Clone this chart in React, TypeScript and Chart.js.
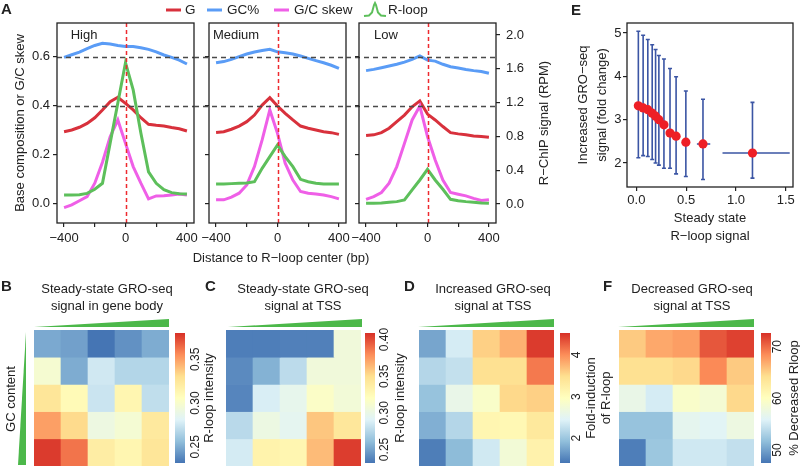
import React, { useEffect, useRef } from "react";
import { Chart, registerables } from "chart.js";

Chart.register(...registerables);

const FONT = '"Liberation Sans", Arial, Helvetica, sans-serif';
const INK = "#222222";
Chart.defaults.font.family = FONT;
Chart.defaults.color = INK;

// ---------------- Panel A: profiles around R-loop centres ----------------
const distanceBp = [-400, -350, -300, -250, -200, -150, -100, -50, 0, 50, 100, 150, 200, 250, 300, 350, 400];

const highG = [0.293, 0.3, 0.311, 0.327, 0.35, 0.382, 0.416, 0.434, 0.409, 0.382, 0.35, 0.323, 0.319, 0.316, 0.31, 0.305, 0.296];
const highGC = [0.597, 0.608, 0.619, 0.633, 0.646, 0.655, 0.652, 0.646, 0.642, 0.642, 0.637, 0.63, 0.62, 0.607, 0.597, 0.586, 0.57];
const highSkew = [-0.018, -0.007, 0.01, 0.027, 0.082, 0.168, 0.272, 0.341, 0.245, 0.15, 0.082, 0.018, 0.03, 0.031, 0.034, 0.038, 0.034];
const highRloop = [0.107, 0.107, 0.11, 0.125, 0.175, 0.245, 0.72, 1.195, 1.672, 1.35, 0.84, 0.38, 0.245, 0.17, 0.134, 0.12, 0.118];

const mediumG = [0.29, 0.293, 0.303, 0.316, 0.334, 0.361, 0.402, 0.432, 0.398, 0.368, 0.341, 0.316, 0.307, 0.3, 0.293, 0.289, 0.282];
const mediumGC = [0.575, 0.58, 0.589, 0.6, 0.611, 0.619, 0.625, 0.63, 0.62, 0.616, 0.611, 0.603, 0.593, 0.584, 0.575, 0.565, 0.552];
const mediumSkew = [0.014, 0.014, 0.025, 0.041, 0.075, 0.15, 0.259, 0.382, 0.286, 0.164, 0.095, 0.048, 0.041, 0.038, 0.034, 0.027, 0.018];
const mediumRloop = [0.237, 0.237, 0.241, 0.245, 0.249, 0.264, 0.422, 0.56, 0.698, 0.56, 0.442, 0.292, 0.264, 0.245, 0.237, 0.237, 0.237];

const lowG = [0.277, 0.28, 0.289, 0.307, 0.334, 0.361, 0.395, 0.419, 0.365, 0.341, 0.314, 0.289, 0.284, 0.28, 0.275, 0.273, 0.27];
const lowGC = [0.543, 0.548, 0.555, 0.562, 0.569, 0.578, 0.589, 0.603, 0.586, 0.582, 0.569, 0.559, 0.554, 0.548, 0.543, 0.539, 0.532];
const lowSkew = [0.016, 0.027, 0.044, 0.082, 0.15, 0.245, 0.341, 0.398, 0.273, 0.177, 0.095, 0.044, 0.037, 0.03, 0.02, 0.011, 0.014];
const lowRloop = [0.008, 0.008, 0.012, 0.02, 0.028, 0.047, 0.166, 0.284, 0.41, 0.284, 0.174, 0.055, 0.039, 0.028, 0.02, 0.012, 0.008];

const aSeriesNames = ["G", "GC%", "G/C skew", "R-loop"];
const aXTicks = [-400, -200, 0, 200, 400];
const aXLabelled = [-400, 0, 400];
const aLeftTicks = [0, 0.2, 0.4, 0.6];
const aRightTicks = [0, 0.4, 0.8, 1.2, 1.6, 2.0];
const aRefLines = [0.4, 0.6];
const aCentre = 0;
const aNameAt = -270;

// ---------------- Panel E: steady state vs increased GRO-seq ----------------
const eSteadyRloop = [0.02, 0.068, 0.115, 0.159, 0.193, 0.226, 0.277, 0.338, 0.399, 0.497, 0.669, 1.166];
const eSteadyLo = [0.0, 0.05, 0.1, 0.145, 0.18, 0.212, 0.262, 0.318, 0.375, 0.465, 0.608, 0.865];
const eSteadyHi = [0.04, 0.085, 0.13, 0.173, 0.206, 0.24, 0.292, 0.358, 0.423, 0.53, 0.742, 1.54];
const eFold = [3.32, 3.27, 3.23, 3.15, 3.08, 3.0, 2.88, 2.69, 2.62, 2.48, 2.44, 2.23];
const eFoldLo = [2.12, 2.17, 2.15, 2.08, 2.0, 1.95, 1.88, 1.88, 1.75, 1.69, 1.62, 1.65];
const eFoldHi = [5.04, 4.95, 4.85, 4.73, 4.62, 4.48, 4.4, 4.18, 3.99, 3.66, 3.47, 3.4];
const eXTicks = [0, 0.5, 1.0, 1.5];
const eYTicks = [2, 3, 4, 5];

// ---------------- Heatmaps B, C, D, F (rows top -> bottom) ----------------
const heatPalette = ["#4575B4", "#91BFDB", "#E0F3F8", "#FFFFBF", "#FEE090", "#FC8D59", "#D73027"];

const bCells = [
  [0.249, 0.246, 0.231, 0.241, 0.25],
  [0.298, 0.25, 0.276, 0.267, 0.267],
  [0.326, 0.31, 0.274, 0.313, 0.271],
  [0.35, 0.332, 0.291, 0.297, 0.323],
  [0.377, 0.362, 0.32, 0.313, 0.326],
];
const bRange = [0.2315, 0.38];
const bTicks = [0.25, 0.3, 0.35];

const cCells = [
  [0.235, 0.235, 0.236, 0.236, 0.306],
  [0.24, 0.256, 0.277, 0.306, 0.306],
  [0.238, 0.288, 0.297, 0.316, 0.308],
  [0.276, 0.302, 0.295, 0.359, 0.343],
  [0.286, 0.332, 0.329, 0.363, 0.405],
];
const cRange = [0.2315, 0.409];
const cTicks = [0.25, 0.3, 0.35, 0.4];

const dCells = [
  [1.74, 2.37, 3.59, 3.78, 4.47],
  [2.15, 2.25, 3.47, 3.47, 4.12],
  [1.96, 2.59, 2.87, 3.53, 3.59],
  [1.81, 2.15, 3.12, 3.09, 3.34],
  [1.46, 1.9, 2.34, 2.75, 3.18],
];
const dRange = [1.4, 4.53];
const dTicks = [2, 3, 4];

const fCells = [
  [65.4, 67.1, 67.6, 70.9, 71.9],
  [64.1, 64.1, 64.6, 68.6, 65.4],
  [57.1, 55.3, 59.3, 58.6, 64.6],
  [52.0, 52.0, 56.6, 56.1, 57.6],
  [48.0, 52.3, 55.0, 55.0, 54.3],
];
const fRange = [47.5, 72.65];
const fTicks = [50, 60, 70];

// ---------------- styling ----------------
const COL_G = "#d8313c";
const COL_GC = "#5a9cf6";
const COL_SKEW = "#ef5fe7";
const COL_RLOOP = "#5dbf5b";
const COL_WEDGE = "#4cb84a";

function hexToRgb(h: string) {
  const n = parseInt(h.slice(1), 16);
  return [(n >> 16) & 255, (n >> 8) & 255, n & 255];
}
function heatColor(v: number, range: number[]) {
  const t = Math.min(1, Math.max(0, (v - range[0]) / (range[1] - range[0]))) * (heatPalette.length - 1);
  const i = Math.min(heatPalette.length - 2, Math.floor(t));
  const f = t - i;
  const a = hexToRgb(heatPalette[i]);
  const b = hexToRgb(heatPalette[i + 1]);
  const c = a.map((av, k) => Math.round(av + (b[k] - av) * f));
  return `rgb(${c[0]},${c[1]},${c[2]})`;
}

const tickFont = { family: FONT, size: 13, lineHeight: 1.2 };
const titleFont = { family: FONT, size: 13, lineHeight: 15 / 13 };
const axisGrid = { display: true, drawOnChartArea: false, drawTicks: true, tickLength: 4, color: INK, lineWidth: 1.2 };

function drawFrame(chart: any) {
  const { ctx, chartArea: a } = chart;
  ctx.save();
  ctx.setLineDash([]);
  ctx.strokeStyle = INK;
  ctx.lineWidth = 1.3;
  ctx.strokeRect(a.left, a.top, a.right - a.left, a.bottom - a.top);
  ctx.restore();
}

// ---------------- Panel A chart ----------------
const A_W = 560;
const A_H = 270;
const A_TOP = 23;
const A_BOTTOM = 223;
const A_FRAME_W = 137;

function panelAConfig(p: any) {
  const yW = p.leftLabels ? p.frameLeft - 12.5 : 5;
  const padLeft = p.frameLeft - yW;
  const frameRight = p.frameLeft + A_FRAME_W;
  const y2W = p.rightAxis ? 32 : 0;
  const padRight = A_W - frameRight - y2W;
  const xH = 41.5;
  const padBottom = A_H - A_BOTTOM - xH;
  const pts = (arr: number[]) => distanceBp.map((x, i) => ({ x, y: arr[i] }));
  const line = (label: string, arr: number[], color: string, axis: string, order: number) => ({
    label,
    data: pts(arr),
    borderColor: color,
    backgroundColor: color,
    borderWidth: 3,
    pointRadius: 0,
    tension: 0,
    yAxisID: axis,
    order,
  });
  return {
    type: "line",
    data: {
      datasets: [
        line(aSeriesNames[0], p.g, COL_G, "y", 4),
        line(aSeriesNames[1], p.gc, COL_GC, "y", 3),
        line(aSeriesNames[2], p.skew, COL_SKEW, "y", 2),
        line(aSeriesNames[3], p.rloop, COL_RLOOP, "y2", 1),
      ],
    },
    options: {
      responsive: false,
      animation: false,
      events: [],
      layout: { padding: { left: padLeft, right: padRight, top: A_TOP, bottom: padBottom } },
      plugins: { legend: { display: false }, tooltip: { enabled: false } },
      scales: {
        x: {
          type: "linear",
          min: -446,
          max: 446,
          bounds: "data",
          afterBuildTicks: (s: any) => {
            s.ticks = aXTicks.map((value) => ({ value }));
          },
          afterFit: (s: any) => {
            s.height = xH;
          },
          grid: axisGrid,
          border: { display: false },
          ticks: {
            autoSkip: false,
            maxRotation: 0,
            padding: 4,
            font: tickFont,
            color: INK,
            callback: (v: number) => (aXLabelled.includes(v) ? String(v).replace("-", "\u2212") : ""),
          },
        },
        y: {
          type: "linear",
          position: "left",
          min: -0.081,
          max: 0.738,
          bounds: "data",
          afterBuildTicks: (s: any) => {
            s.ticks = aLeftTicks.map((value) => ({ value }));
          },
          afterFit: (s: any) => {
            s.width = yW;
          },
          grid: axisGrid,
          border: { display: false },
          ticks: {
            display: p.leftLabels,
            padding: 3,
            font: tickFont,
            color: INK,
            callback: (v: number) => v.toFixed(1),
          },
          title: {
            display: p.leftLabels,
            text: "Base composition or G/C skew",
            padding: 0,
            font: titleFont,
            color: INK,
          },
        },
        y2: {
          type: "linear",
          position: "right",
          display: p.rightAxis,
          min: -0.225,
          max: 2.142,
          bounds: "data",
          afterBuildTicks: (s: any) => {
            s.ticks = aRightTicks.map((value) => ({ value }));
          },
          afterFit: (s: any) => {
            s.width = y2W;
          },
          grid: axisGrid,
          border: { display: false },
          ticks: { padding: 6, font: tickFont, color: INK, callback: (v: number) => v.toFixed(1) },
        },
      },
    },
    plugins: [
      {
        id: "panelA",
        afterDatasetsDraw(chart: any) {
          const { ctx, chartArea: a, scales } = chart;
          ctx.save();
          ctx.strokeStyle = "#4a4a4a";
          ctx.lineWidth = 1.4;
          ctx.setLineDash([5, 4]);
          aRefLines.forEach((v) => {
            const y = Math.round(scales.y.getPixelForValue(v)) + 0.5;
            ctx.beginPath();
            ctx.moveTo(a.left - p.dashFrom, y);
            ctx.lineTo(a.right, y);
            ctx.stroke();
          });
          ctx.strokeStyle = "#ee2a2f";
          ctx.lineWidth = 1.5;
          ctx.setLineDash([4, 3]);
          const x0 = Math.round(scales.x.getPixelForValue(aCentre)) + 0.5;
          ctx.beginPath();
          ctx.moveTo(x0, a.top);
          ctx.lineTo(x0, a.bottom);
          ctx.stroke();
          ctx.setLineDash([]);
          ctx.fillStyle = INK;
          ctx.font = `13px ${FONT}`;
          ctx.textAlign = "center";
          ctx.textBaseline = "middle";
          ctx.fillText(p.name, scales.x.getPixelForValue(aNameAt), a.top + 12);
          ctx.restore();
          drawFrame(chart);
        },
      },
    ],
  };
}

// ---------------- Panel E chart ----------------
function panelEConfig() {
  return {
    type: "scatter",
    data: {
      datasets: [
        {
          label: "Increased GRO-seq",
          data: eSteadyRloop.map((x, i) => ({ x, y: eFold[i] })),
          pointRadius: 4.6,
          pointHoverRadius: 4.6,
          pointBackgroundColor: "#ee1f26",
          pointBorderColor: "#ee1f26",
          pointBorderWidth: 0,
        },
      ],
    },
    options: {
      responsive: false,
      animation: false,
      events: [],
      layout: { padding: { left: 14, right: 7, top: 23, bottom: 5 } },
      plugins: { legend: { display: false }, tooltip: { enabled: false } },
      scales: {
        x: {
          type: "linear",
          min: -0.094,
          max: 1.573,
          bounds: "data",
          afterBuildTicks: (s: any) => {
            s.ticks = eXTicks.map((value) => ({ value }));
          },
          afterFit: (s: any) => {
            s.height = 58;
          },
          grid: axisGrid,
          border: { display: false },
          ticks: { autoSkip: false, maxRotation: 0, padding: 1.5, font: tickFont, color: INK, callback: (v: number) => v.toFixed(1) },
          title: {
            display: true,
            text: ["Steady state", "R\u2212loop signal"],
            padding: 0,
            font: { family: FONT, size: 13, lineHeight: 18 / 13 },
            color: INK,
          },
        },
        y: {
          type: "linear",
          min: 1.446,
          max: 5.231,
          bounds: "data",
          afterBuildTicks: (s: any) => {
            s.ticks = eYTicks.map((value) => ({ value }));
          },
          afterFit: (s: any) => {
            s.width = 53;
          },
          grid: axisGrid,
          border: { display: false },
          ticks: { padding: 1.5, font: tickFont, color: INK, callback: (v: number) => String(v) },
          title: {
            display: true,
            text: ["Increased GRO\u2212seq", "signal (fold change)"],
            padding: 0,
            font: { family: FONT, size: 13, lineHeight: 18.75 / 13 },
            color: INK,
          },
        },
      },
    },
    plugins: [
      {
        id: "errorBars",
        beforeDatasetsDraw(chart: any) {
          const { ctx, scales } = chart;
          const sx = scales.x;
          const sy = scales.y;
          ctx.save();
          ctx.strokeStyle = "#3b55a4";
          ctx.lineWidth = 1.6;
          eSteadyRloop.forEach((xv, i) => {
            const px = sx.getPixelForValue(xv);
            const py = sy.getPixelForValue(eFold[i]);
            const top = sy.getPixelForValue(eFoldHi[i]);
            const bot = sy.getPixelForValue(eFoldLo[i]);
            const l = sx.getPixelForValue(eSteadyLo[i]);
            const r = sx.getPixelForValue(eSteadyHi[i]);
            ctx.beginPath();
            ctx.moveTo(px, top);
            ctx.lineTo(px, bot);
            ctx.moveTo(px - 2, top);
            ctx.lineTo(px + 2, top);
            ctx.moveTo(px - 2, bot);
            ctx.lineTo(px + 2, bot);
            ctx.moveTo(l, py);
            ctx.lineTo(r, py);
            ctx.stroke();
          });
          ctx.restore();
        },
        afterDatasetsDraw(chart: any) {
          drawFrame(chart);
        },
      },
    ],
  };
}

// ---------------- Heatmap + colour bar ----------------
function heatConfig(cells: number[][], range: number[]) {
  const n = cells.length;
  return {
    type: "bar",
    data: {
      labels: cells[0].map((_, j) => String(j + 1)),
      datasets: cells.map((row, r) => ({
        label: `row ${r + 1}`,
        data: row.map(() => [n - 1 - r, n - r]),
        backgroundColor: row.map((v) => heatColor(v, range)),
        borderWidth: 0,
        barPercentage: 1,
        categoryPercentage: 1,
        grouped: false,
      })),
    },
    options: {
      responsive: false,
      animation: false,
      events: [],
      layout: { padding: 0 },
      plugins: { legend: { display: false }, tooltip: { enabled: false } },
      scales: {
        x: { display: false },
        y: { display: false, min: 0, max: n },
      },
    },
  };
}

const CB_LEN = 130;
const CB_PAD = 10;
const CB_THICK = 10;
const CB_BOTTOM = 463;

function colorbarConfig(cb: any, h: number) {
  return {
    type: "bar",
    data: {
      labels: [""],
      datasets: [
        {
          label: "scale",
          data: [[cb.range[0], cb.range[1]]],
          backgroundColor: (c: any) => {
            const a = c.chart.chartArea;
            if (!a) return heatPalette[0];
            const g = c.chart.ctx.createLinearGradient(a.left, 0, a.right, 0);
            heatPalette.forEach((col, i) => g.addColorStop(i / (heatPalette.length - 1), col));
            return g;
          },
          borderWidth: 0,
          barPercentage: 1,
          categoryPercentage: 1,
        },
      ],
    },
    options: {
      indexAxis: "y",
      responsive: false,
      animation: false,
      events: [],
      layout: { padding: { left: CB_PAD, right: CB_PAD, top: 0, bottom: 0 } },
      plugins: { legend: { display: false }, tooltip: { enabled: false } },
      scales: {
        y: { display: false },
        x: {
          type: "linear",
          position: "bottom",
          min: cb.range[0],
          max: cb.range[1],
          bounds: "data",
          afterBuildTicks: (s: any) => {
            s.ticks = cb.ticks.map((value: number) => ({ value }));
          },
          afterFit: (s: any) => {
            s.height = h - CB_THICK;
          },
          grid: { display: false, drawTicks: false },
          border: { display: false },
          ticks: {
            autoSkip: false,
            maxRotation: 0,
            padding: cb.labelOffset - 6,
            font: { family: FONT, size: 12, lineHeight: 1 },
            color: INK,
            callback: (v: number) => v.toFixed(cb.decimals),
          },
          title: { display: true, text: cb.title, padding: 0, font: titleFont, color: INK },
        },
      },
    },
  };
}

function ChartCanvas({ build, left, top, width, height }: any) {
  const ref = useRef<HTMLCanvasElement | null>(null);
  useEffect(() => {
    if (!ref.current) return;
    const chart = new Chart(ref.current, build());
    return () => chart.destroy();
  }, []);
  return (
    <canvas
      ref={ref}
      width={width}
      height={height}
      style={{ position: "absolute", left, top, width, height, display: "block" }}
    />
  );
}

function Colorbar({ cb }: any) {
  const h = Math.round(CB_THICK + cb.titleOffset + 7.5);
  const w = CB_LEN + 2 * CB_PAD;
  return (
    <div
      style={{
        position: "absolute",
        left: cb.barLeft,
        top: CB_BOTTOM + CB_PAD,
        width: w,
        height: h,
        transform: "rotate(-90deg)",
        transformOrigin: "0 0",
      }}
    >
      <ChartCanvas build={() => colorbarConfig(cb, h)} left={0} top={0} width={w} height={h} />
    </div>
  );
}

function Txt({ x, y, children, size = 13, bold = false, rotate = 0, align = "center", lh }: any) {
  const tx = align === "center" ? "-50%" : align === "left" ? "0%" : "-100%";
  return (
    <div
      style={{
        position: "absolute",
        left: x,
        top: y,
        transform: `translate(${tx}, -50%)` + (rotate ? ` rotate(${rotate}deg)` : ""),
        fontSize: size,
        fontWeight: bold ? 700 : 400,
        lineHeight: lh ? `${lh}px` : 1,
        whiteSpace: "pre",
        textAlign: "center",
        color: INK,
        fontFamily: FONT,
      }}
    >
      {children}
    </div>
  );
}

const HEAT_TOP = 330;
const HEAT_SIZE = 135;
const HEAT_H = 136;

const heatmaps = [
  { key: "B", cells: bCells, range: bRange, left: 34, cb: { barLeft: 175, range: bRange, ticks: bTicks, decimals: 2, labelOffset: 10.5, titleOffset: 24.5, title: "R-loop intensity" } },
  { key: "C", cells: cCells, range: cRange, left: 226, cb: { barLeft: 365, range: cRange, ticks: cTicks, decimals: 2, labelOffset: 9.7, titleOffset: 25, title: "R-loop intensity" } },
  { key: "D", cells: dCells, range: dRange, left: 419, cb: { barLeft: 560, range: dRange, ticks: dTicks, decimals: 0, labelOffset: 6.5, titleOffset: 36.5, title: ["Fold-induction", "of R-loop"] } },
  { key: "F", cells: fCells, range: fRange, left: 619, cb: { barLeft: 761, range: fRange, ticks: fTicks, decimals: 0, labelOffset: 7, titleOffset: 23.5, title: "% Decreased Rloop" } },
];

const panelsA = [
  { name: "High", g: highG, gc: highGC, skew: highSkew, rloop: highRloop, frameLeft: 57, leftLabels: true, rightAxis: false, dashFrom: 0 },
  { name: "Medium", g: mediumG, gc: mediumGC, skew: mediumSkew, rloop: mediumRloop, frameLeft: 209, leftLabels: false, rightAxis: false, dashFrom: 15 },
  { name: "Low", g: lowG, gc: lowGC, skew: lowSkew, rloop: lowRloop, frameLeft: 359, leftLabels: false, rightAxis: true, dashFrom: 13 },
];

export default function App() {
  return (
    <div
      style={{
        position: "absolute",
        left: 0,
        top: 0,
        width: 800,
        height: 467,
        overflow: "hidden",
        background: "#ffffff",
        fontFamily: FONT,
      }}
    >
      {panelsA.map((p) => (
        <ChartCanvas key={p.name} build={() => panelAConfig(p)} left={0} top={0} width={A_W} height={A_H} />
      ))}
      <ChartCanvas build={panelEConfig} left={560} top={0} width={240} height={250} />
      {heatmaps.map((h) => (
        <ChartCanvas key={h.key} build={() => heatConfig(h.cells, h.range)} left={h.left} top={HEAT_TOP} width={HEAT_SIZE} height={HEAT_H} />
      ))}
      {heatmaps.map((h) => (
        <Colorbar key={"cb" + h.key} cb={h.cb} />
      ))}

      <svg width={800} height={467} style={{ position: "absolute", left: 0, top: 0, pointerEvents: "none" }}>
        <line x1={166} y1={10} x2={181} y2={10} stroke={COL_G} strokeWidth={3} />
        <line x1={207} y1={10} x2={222} y2={10} stroke={COL_GC} strokeWidth={3} />
        <line x1={274} y1={10} x2={289} y2={10} stroke={COL_SKEW} strokeWidth={3} />
        <polyline
          points="364,16 369,15.5 372,12.5 374,5 375,3 376,5 378,12.5 381,15.5 386,16"
          fill="none"
          stroke={COL_RLOOP}
          strokeWidth={2}
        />
        <polygon points="34,327 169,327 169,319" fill={COL_WEDGE} />
        <polygon points="26,332 26,465 18,465" fill={COL_WEDGE} />
        <polygon points="228,327 362,327 362,319" fill={COL_WEDGE} />
        <polygon points="418,327 554,327 554,319" fill={COL_WEDGE} />
        <polygon points="618,327 754,327 754,319" fill={COL_WEDGE} />
      </svg>

      <Txt x={1} y={8} size={15} bold align="left">A</Txt>
      <Txt x={185} y={10} size={13.5} align="left">G</Txt>
      <Txt x={227} y={10} size={13.5} align="left">GC%</Txt>
      <Txt x={294} y={10} size={13.5} align="left">G/C skew</Txt>
      <Txt x={388} y={10} size={13.5} align="left">R-loop</Txt>
      <Txt x={543} y={123} rotate={-90}>R{"\u2212"}ChIP signal (RPM)</Txt>
      <Txt x={281} y={257}>Distance to R{"\u2212"}loop center (bp)</Txt>

      <Txt x={571} y={9} size={15} bold align="left">E</Txt>
      <Txt x={1} y={285} size={15} bold align="left">B</Txt>
      <Txt x={205} y={285} size={15} bold align="left">C</Txt>
      <Txt x={404} y={285} size={15} bold align="left">D</Txt>
      <Txt x={603} y={285} size={15} bold align="left">F</Txt>

      <Txt x={107} y={296.5} lh={17}>{"Steady-state GRO-seq\nsignal in gene body"}</Txt>
      <Txt x={303} y={296.5} lh={17}>{"Steady-state GRO-seq\nsignal at TSS"}</Txt>
      <Txt x={493} y={296.5} lh={17}>{"Increased GRO-seq\nsignal at TSS"}</Txt>
      <Txt x={692} y={296.5} lh={17}>{"Decreased GRO-seq\nsignal at TSS"}</Txt>
      <Txt x={10} y={399} rotate={-90}>GC content</Txt>
    </div>
  );
}
